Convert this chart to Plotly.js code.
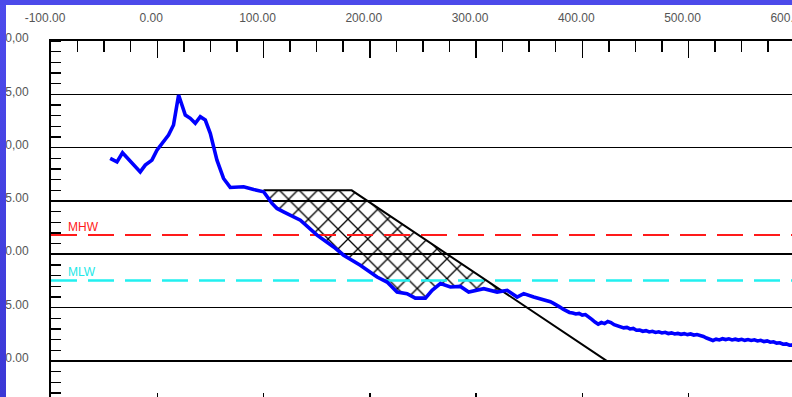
<!DOCTYPE html>
<html>
<head>
<meta charset="utf-8">
<script src="https://cdn.plot.ly/plotly-3.0.1.min.js"></script>
<style>
  html, body { margin:0; padding:0; overflow:hidden; width:792px; height:397px; background:#fff; }
  #chart { position:absolute; left:0; top:0; }
  .frameL { position:absolute; left:0; top:0; width:6px; height:397px; background:linear-gradient(#4d4bec,#3b38d6); z-index:5; }
  .frameT { position:absolute; left:0; top:0; width:792px; height:5px; background:#4c4aea; z-index:5; }
</style>
</head>
<body>
<div id="chart"></div>
<div class="frameL"></div>
<div class="frameT"></div>
<script>
// ---- data ----
const xTickVals = [-100, 0, 100, 200, 300, 400, 500, 600];
const xTickText = ["-100.00", "0.00", "100.00", "200.00", "300.00", "400.00", "500.00", "600.00"];
const yTickVals = [20, 15, 10, 5, 0, -5, -10];
const yTickText = ["20,00", "15,00", "10,00", "5.00", "0.00", "-5.00", "-10.00"];

const profileX = [-44.3,-37.9,-32.7,-16.0,-11.3,-5.0,-0.3,10.6,15.3,20.1,26.4,31.1,35.8,40.5,45.2,49.9,56.2,62.4,68.7,81.3,90.7,100.1,108.0,112.7,118.9,134.7,150.4,166.0,175.4,191.1,206.9,216.3,225.7,235.1,242.9,252.4,258.7,266.5,275.9,285.3,293.1,307.3,319.9,329.3,338.7,344.9,354.3,366.8,
  370,373,376,379,382,385,388,391,394,397,400,403,406,409,412,415,418,421,424,427,430,433,436,439,442,445,448,451,454,457,460,463,466,469,472,475,478,481,484,487,490,493,496,499,502,505,508,511,514,517,520,523,526,529,532,535,538,541,544,547,550,553,556,559,562,565,568,571,574,577,580,583,586,589,592,595,598,601,604,607];
const profileY = [9.0,8.67,9.52,7.73,8.36,8.83,9.77,11.18,12.12,14.94,13.06,12.75,12.28,12.9,12.59,11.34,8.83,7.11,6.27,6.33,6.08,5.86,4.77,4.30,3.98,3.20,1.79,0.69,-0.09,-1.03,-2.13,-2.60,-3.54,-3.69,-4.11,-4.11,-3.38,-2.75,-3.07,-3.01,-3.54,-3.22,-3.54,-3.38,-4.01,-3.69,-4.01,-4.32,
  -4.45,-4.6,-4.75,-4.95,-5.15,-5.35,-5.45,-5.5,-5.6,-5.55,-5.7,-5.65,-5.85,-6.1,-6.35,-6.55,-6.4,-6.5,-6.3,-6.4,-6.6,-6.7,-6.75,-6.9,-6.85,-7.0,-6.95,-7.12,-7.1,-7.22,-7.16,-7.28,-7.22,-7.33,-7.27,-7.38,-7.32,-7.43,-7.37,-7.47,-7.42,-7.5,-7.44,-7.53,-7.47,-7.57,-7.52,-7.6,-7.7,-7.85,-8.0,-8.08,-7.96,-8.03,-7.92,-8.0,-7.93,-8.03,-7.96,-8.04,-7.97,-8.07,-8.0,-8.08,-8.02,-8.13,-8.07,-8.18,-8.12,-8.24,-8.2,-8.33,-8.3,-8.43,-8.4,-8.53,-8.5,-8.63,-8.6,-8.7];

const designX = [100, 183, 423];
const designY = [6, 6, -10];

const MHW = 1.8;
const MLW = -2.45;

const xRange = [-100, 620];
const yRange = [-14.6, 20];

// ---- hatch polygon (between design profile and measured profile) ----
function designAt(x) {
  for (let i = 0; i < designX.length - 1; i++) {
    if (x >= designX[i] && x <= designX[i+1]) {
      const t = (x - designX[i]) / (designX[i+1] - designX[i]);
      return designY[i] + t * (designY[i+1] - designY[i]);
    }
  }
  return null;
}
let ix = null, iy = null, iIdx = null;
for (let i = 0; i < profileX.length - 1; i++) {
  const x0 = profileX[i], x1 = profileX[i+1];
  if (x0 < designX[1] || x1 > designX[designX.length-1]) continue;
  const d0 = profileY[i] - designAt(x0), d1 = profileY[i+1] - designAt(x1);
  if (d0 <= 0 && d1 > 0) {
    const t = d0 / (d0 - d1);
    ix = x0 + t * (x1 - x0);
    iy = profileY[i] + t * (profileY[i+1] - profileY[i]);
    iIdx = i;
    break;
  }
}
const hatchX = [], hatchY = [];
for (let i = 0; i < designX.length; i++) {
  if (designX[i] < ix) { hatchX.push(designX[i]); hatchY.push(designY[i]); }
}
hatchX.push(ix); hatchY.push(iy);
for (let i = iIdx; i >= 0; i--) {
  if (profileX[i] >= designX[0]) { hatchX.push(profileX[i]); hatchY.push(profileY[i]); }
}

const tickFont = {family: "Liberation Sans, Arial, sans-serif", size: 12, color: "#555"};

const traces = [
  {x: hatchX, y: hatchY, type: "scatter", mode: "lines", fill: "toself",
   fillcolor: "rgba(0,0,0,0)", line: {width: 0},
   fillpattern: {shape: "x", fgcolor: "black", bgcolor: "rgba(0,0,0,0)", size: 14, solidity: 0.18},
   hoverinfo: "skip"},
  {x: xRange, y: [MHW, MHW], type: "scatter", mode: "lines",
   line: {color: "#ff1a1a", width: 2, dash: "26px,11px"}},
  {x: xRange, y: [MLW, MLW], type: "scatter", mode: "lines",
   line: {color: "#22f0f0", width: 2.5, dash: "26px,11px"}},
  {x: designX, y: designY, type: "scatter", mode: "lines",
   line: {color: "black", width: 2}},
  {x: profileX, y: profileY, type: "scatter", mode: "lines",
   line: {color: "#0000ff", width: 3.6}}
];

const layout = {
  width: 830, height: 415,
  margin: {l: 51, r: 14, t: 41, b: 5},
  paper_bgcolor: "white", plot_bgcolor: "white",
  showlegend: false,
  xaxis: {
    side: "top", range: xRange, tickmode: "array", tickvals: xTickVals, ticktext: xTickText,
    ticks: "inside", ticklen: 17, tickwidth: 1.5, tickcolor: "black",
    minor: {tick0: 0, dtick: 25, ticks: "inside", ticklen: 11, tickwidth: 1.5, tickcolor: "black", showgrid: false},
    showgrid: false, zeroline: false, showline: true, linecolor: "black", linewidth: 2, mirror: "ticks",
    tickfont: tickFont, ticklabelstandoff: 12, ticklabelshift: -6
  },
  yaxis: {
    range: yRange, tickmode: "array", tickvals: yTickVals, ticktext: yTickText,
    ticks: "", showgrid: true, gridcolor: "black", gridwidth: 1.6,
    minor: {tick0: 0, dtick: 1, ticks: "inside", ticklen: 10, tickwidth: 1.5, tickcolor: "black", showgrid: false},
    zeroline: false, showline: true, linecolor: "black", linewidth: 2, mirror: "ticks",
    tickfont: tickFont, ticklabelstandoff: 18, ticklabelshift: -3
  },
  annotations: [
    {x: -85, y: MHW, xref: "x", yref: "y", text: "MHW", showarrow: false, xanchor: "left", yanchor: "bottom",
     font: {family: "Liberation Sans, Arial, sans-serif", size: 12, color: "#ff1a1a"}, borderpad: 0},
    {x: -85, y: MLW, xref: "x", yref: "y", text: "MLW", showarrow: false, xanchor: "left", yanchor: "bottom",
     font: {family: "Liberation Sans, Arial, sans-serif", size: 12, color: "#22e8e8"}, borderpad: 0}
  ]
};

Plotly.newPlot("chart", traces, layout, {displayModeBar: false, staticPlot: true});
</script>
</body>
</html>
